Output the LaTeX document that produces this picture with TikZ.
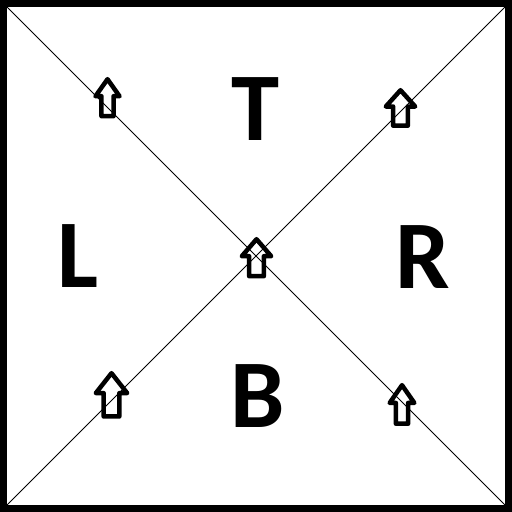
\documentclass[tikz,border=0pt]{standalone}
\usepackage{fontspec}
\setmainfont{Carlito}
\usepackage{tikz}
\usetikzlibrary{arrows.meta,positioning,calc}
\tikzset{
  frame/.style={draw=black, line width=7pt},
  diag/.style={draw=black, line width=0.9pt},
  side/.style={inner sep=0pt, anchor=base, font=\fontsize{97}{97}\selectfont\bfseries},
  % hollow up arrow, drawn from its tip downwards
  uparr/.pic={
    \draw[line width=4.5pt, line join=round]
      (0,0) -- (14,17) -- (7,17) -- (7,37) -- (-7,37) -- (-7,17) -- (-14,17) -- cycle;
  },
}
\begin{document}
\begin{tikzpicture}[x=1pt, y=-1pt]
    \useasboundingbox (0,0) rectangle (512,512);
    \draw[frame] (3.5,3.5) rectangle (508.5,508.5);
    \coordinate (nw) at (7,7);
    \coordinate (ne) at (505,7);
    \coordinate (sw) at (7,505);
    \coordinate (se) at (505,505);
    \draw[diag] (nw)--(se); \draw[diag] (ne)--(sw);
    \node[side] (T) at (255.5,140) {T};
    \node[side] (L) at (78,287) {L};
    \node[side] (R) at (423,288) {R};
    \node[side] (B) at (258,427) {B};
    \pic[xscale=0.86] at (107.5,79.2) {uparr};
    \pic[xscale=1.05, yscale=0.96] at (400.5,90.2) {uparr};
    \pic[xscale=1.05] at (256.5,239.2) {uparr};
    \pic[xscale=1.12, yscale=1.17] at (111.5,373.2) {uparr};
    \pic[xscale=0.88, yscale=1.04] at (402,385.2) {uparr};
  \end{tikzpicture}
\end{document}
